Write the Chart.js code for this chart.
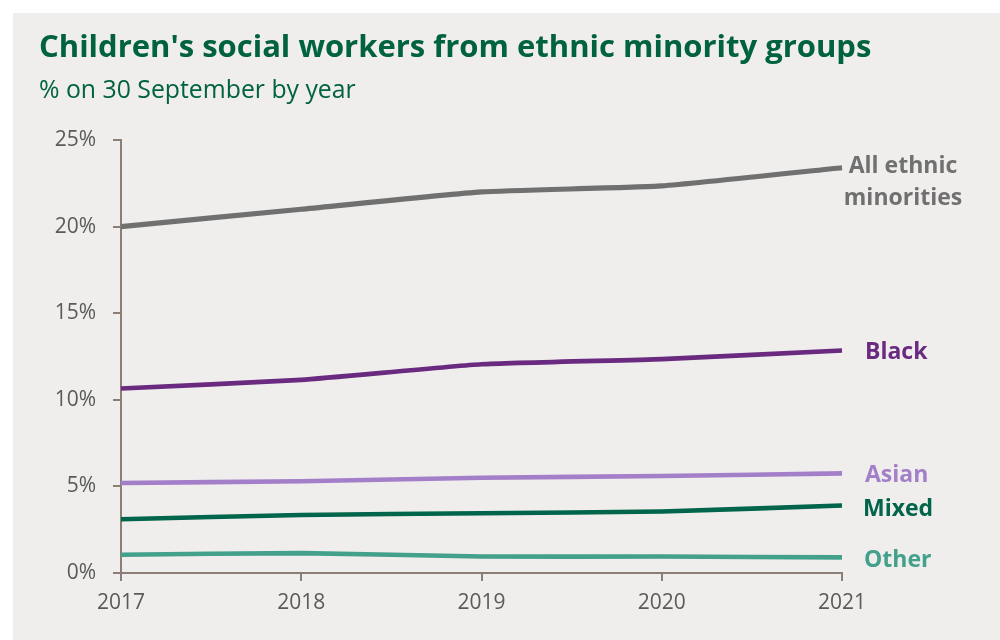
<!DOCTYPE html>
<html>
<head>
<meta charset="utf-8">
<script src="https://cdn.jsdelivr.net/npm/chart.js@4/dist/chart.umd.min.js"></script>
<style>
  html, body { margin: 0; padding: 0; background: #ffffff; }
  #wrap { width: 1000px; height: 640px; }
</style>
</head>
<body>
<div id="wrap"><canvas id="c" width="1000" height="640"></canvas></div>
<script>
// Years on the x axis
const years = ['2017', '2018', '2019', '2020', '2021'];

// Share of children's social workers (%) on 30 September, by group
const allMinorities = [20.0, 21.0, 22.0, 22.35, 23.4];
const black = [10.65, 11.15, 12.05, 12.35, 12.85];
const asian = [5.2, 5.3, 5.5, 5.6, 5.75];
const mixed = [3.1, 3.35, 3.45, 3.55, 3.9];
const other = [1.05, 1.15, 0.95, 0.95, 0.9];

// Series names shown at the line ends
const seriesNames = [['All ethnic', 'minorities'], ['Black'], ['Asian'], ['Mixed'], ['Other']];

// Y axis tick values
const yTicks = [0, 5, 10, 15, 20, 25];

const TITLE = "Children's social workers from ethnic minority groups";
const SUBTITLE = '% on 30 September by year';

const GREEN_TEXT = '#00623f';
const PANEL = '#efeeec';
const AXIS = '#8a7e77';
const TICK_TEXT = '#5a5a5a';

const seriesStyle = [
  { color: '#707070', width: 5.2, labelAlign: 'center', labelDx: 61, labelDy: 5, lineGap: 32 },
  { color: '#6a2a80', width: 4.6, labelAlign: 'left', labelDx: 23, labelDy: 9 },
  { color: '#a47fc9', width: 4.6, labelAlign: 'left', labelDx: 23, labelDy: 9 },
  { color: '#00654a', width: 4.6, labelAlign: 'left', labelDx: 21, labelDy: 11 },
  { color: '#42a08b', width: 4.6, labelAlign: 'left', labelDx: 22, labelDy: 10 }
];

const seriesValues = [allMinorities, black, asian, mixed, other];

const decor = {
  id: 'decor',
  beforeDraw(chart) {
    const ctx = chart.ctx;
    ctx.save();
    ctx.fillStyle = '#ffffff';
    ctx.fillRect(0, 0, chart.width, chart.height);
    ctx.fillStyle = PANEL;
    ctx.fillRect(13, 13, chart.width - 13, chart.height - 13);
    // title and subtitle
    ctx.fillStyle = GREEN_TEXT;
    ctx.textBaseline = 'alphabetic';
    ctx.textAlign = 'left';
    ctx.font = 'bold 31px "Open Sans"';
    ctx.fillText(TITLE, 39, 57);
    ctx.font = '24.8px "Open Sans"';
    ctx.fillText(SUBTITLE, 39, 98);
    ctx.restore();
  },
  afterDatasetsDraw(chart) {
    const ctx = chart.ctx;
    const xs = chart.scales.x;
    const ys = chart.scales.y;
    ctx.save();
    ctx.font = 'bold 23px "Open Sans"';
    ctx.textBaseline = 'alphabetic';
    seriesValues.forEach((vals, i) => {
      const st = seriesStyle[i];
      const last = vals.length - 1;
      const px = xs.getPixelForValue(last);
      const py = ys.getPixelForValue(vals[last]);
      ctx.fillStyle = st.color;
      ctx.textAlign = st.labelAlign;
      seriesNames[i].forEach((line, k) => {
        ctx.fillText(line, px + st.labelDx, py + st.labelDy + k * (st.lineGap || 0));
      });
    });
    ctx.restore();
  }
};

new Chart(document.getElementById('c'), {
  type: 'line',
  data: {
    labels: years,
    datasets: seriesValues.map((vals, i) => ({
      label: seriesNames[i].join(' '),
      data: vals,
      borderColor: seriesStyle[i].color,
      borderWidth: seriesStyle[i].width,
      pointRadius: 0,
      pointHoverRadius: 0,
      tension: 0.15,
      fill: false,
      borderCapStyle: 'butt'
    })).reverse()
  },
  options: {
    responsive: false,
    animation: false,
    events: [],
    layout: { padding: { top: 140, right: 158, left: 0, bottom: 0 } },
    plugins: {
      legend: { display: false },
      tooltip: { enabled: false },
      title: { display: false }
    },
    scales: {
      x: {
        type: 'category',
        offset: false,
        afterFit(scale) { scale.height = 67; },
        border: { display: true, color: AXIS, width: 2 },
        grid: { drawOnChartArea: false, drawTicks: true, tickLength: 8, color: AXIS, lineWidth: 2 },
        ticks: { color: TICK_TEXT, font: { family: '"Open Sans"', size: 21 }, padding: 9, maxRotation: 0 }
      },
      y: {
        min: 0,
        max: 25,
        afterFit(scale) { scale.width = 121; },
        afterBuildTicks(scale) { scale.ticks = yTicks.map(v => ({ value: v })); },
        border: { display: true, color: AXIS, width: 2 },
        grid: { drawOnChartArea: false, drawTicks: true, tickLength: 8, color: AXIS, lineWidth: 2 },
        ticks: {
          color: TICK_TEXT,
          font: { family: '"Open Sans"', size: 21 },
          padding: 17,
          callback: v => v + '%'
        }
      }
    }
  },
  plugins: [decor]
});
</script>
</body>
</html>
